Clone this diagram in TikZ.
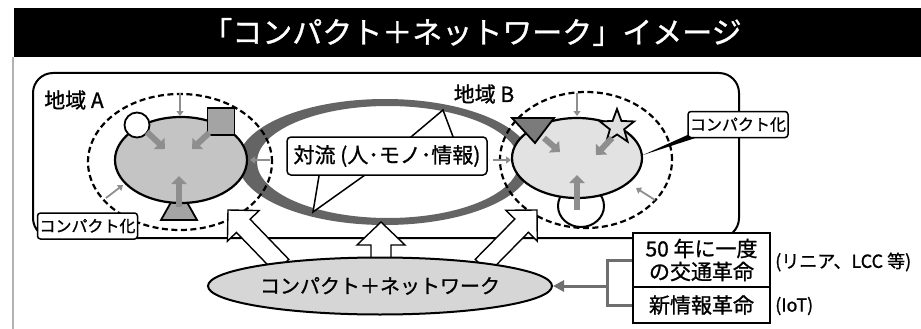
\documentclass[tikz,border=0pt]{standalone}
\usepackage{fontspec}
\setmainfont{Noto Sans CJK JP}[AutoFakeBold=1.0]
\usetikzlibrary{calc,shapes.geometric,arrows.meta}
\definecolor{ringgray}{HTML}{646464}
\definecolor{blobAfill}{HTML}{C4C4C4}
\definecolor{blobBfill}{HTML}{E2E2E2}
\definecolor{midgray}{HTML}{8E8E8E}
\definecolor{shapegray}{HTML}{A4A4A4}
\definecolor{netfill}{HTML}{D6D6D6}
\definecolor{brkgray}{HTML}{6E6E6E}
\newcommand\fsz[1]{\fontsize{#1}{#1}\selectfont\bfseries}
\newcommand\myblockarrow[5]{%
  \coordinate (bab) at ($(#2)!#4!(#1)$);
  \filldraw[fill=white, line width=1.4pt, line join=miter]
    ($(#1)!#3!90:(#2)$) -- ($(bab)!#3!-90:(#1)$) -- ($(bab)!#5!-90:(#1)$) -- (#2)
    -- ($(bab)!#5!90:(#1)$) -- ($(bab)!#3!90:(#1)$) -- ($(#1)!#3!-90:(#2)$) -- cycle;}
\begin{document}
\begin{tikzpicture}[x=1pt,y=-1pt,
  zone/.style={ellipse, draw, line width=2.2pt, dash pattern=on 6pt off 3.5pt, inner sep=0},
  blob/.style={ellipse, draw, line width=2.2pt, inner sep=0},
  inarrow/.style={draw=midgray, line width=6pt, -{Triangle[length=8pt,width=15pt]}},
  outarrow/.style={draw=midgray, line width=1.8pt, -{Triangle[length=5pt,width=7pt]}},
  tagbox/.style={draw, fill=white, line width=1.5pt, rounded corners=3pt, inner sep=0, minimum width=100pt, minimum height=26pt, font=\fsz{16}},
  lbl/.style={font=\fsz{21}, inner sep=0},
  revbox/.style={draw, fill=white, line width=1.5pt, minimum width=137pt, inner sep=0, align=center, font=\fontsize{21}{23}\selectfont\bfseries}]
\useasboundingbox (0,0) rectangle (921,329);

% banner and title
\node (banner) [fill=black, anchor=north west, minimum width=907pt, minimum height=49pt, inner sep=0] at (14,8) {};
\node (title) [text=white, font=\fsz{30}, inner sep=0] at (472,32) {「コンパクト＋ネットワーク」イメージ};
\draw[gray!60, line width=1.5pt] (13,57) -- (13,329);

% region frame
\node (region) [draw, line width=2pt, rounded corners=20pt, minimum width=706pt, minimum height=165pt, inner sep=0] at (386,155.5) {};

% convection ring
\fill[ringgray, even odd rule] (385,162) ellipse [x radius=147pt, y radius=63pt]
                               (388,162) ellipse [x radius=131pt, y radius=56pt];

% zones
\node (zoneA) [zone, minimum width=184pt, minimum height=136pt] at (180,162) {};
\node (zoneB) [zone, minimum width=172pt, minimum height=136pt] at (586,160) {};

% region A shapes
\filldraw[fill=shapegray, line width=1.8pt] (179,188) -- (161,220) -- (197,220) -- cycle;
\node (blobA) [blob, fill=blobAfill, minimum width=132pt, minimum height=86pt] at (181,160) {};
\node (cirA) [circle, draw, fill=white, line width=1.8pt, minimum size=25pt, inner sep=0] at (137,125) {};
\node (sqA) [draw, fill=shapegray, line width=1.8pt, minimum size=27pt, inner sep=0] at (221,121.5) {};
\draw[inarrow] (147,132) -- (165,149);
\draw[inarrow] (209,133) -- (192,149);
\draw[inarrow] (179,207) -- (179,176);
\draw[outarrow] (180,93) -- (180,116);
\draw[outarrow] (270,160) -- (250,160);
\draw[outarrow] (106,198) -- (123,185);

% region B shapes
\node (cirB) [ellipse, draw, fill=white, line width=2pt, minimum width=46pt, minimum height=42pt, inner sep=0] at (581,206) {};
\node (blobB) [blob, fill=blobBfill, minimum width=130pt, minimum height=80pt] at (577,158) {};
\node (starB) [star, star points=5, star point ratio=2.4, draw, fill=gray!25, line width=1.8pt, minimum size=36pt, inner sep=0] at (617,127) {};
\filldraw[fill=ringgray!85, line width=1.8pt] (512,118) -- (554,118) -- (535,143) -- cycle;
\draw[inarrow] (544,138) -- (560,152);
\draw[inarrow] (612,138) -- (596,155);
\draw[inarrow] (577,210) -- (577,175);
\draw[outarrow] (577,93) -- (577,116);
\draw[outarrow] (493,160) -- (511,160);
\draw[outarrow] (655,200) -- (636,188);

% labels
\node (labA) [lbl] at (74,100) {地域 A};
\node (labB) [lbl] at (484,94) {地域 B};
\node (tagA) [tagbox] at (87.5,226) {コンパクト化};
\fill (643,155) -- (692,133) -- (697,137.5) -- cycle;
\node (tagB) [tagbox] at (738,124.5) {コンパクト化};

% convection callout
\filldraw[fill=white, line width=1.5pt, line join=miter] (405,142) -- (443,110) -- (455,142);
\filldraw[fill=white, line width=1.5pt, line join=miter] (320,170) -- (313,212) -- (372,170);
\node (conv) [draw, fill=white, line width=1.5pt, rounded corners=4pt, minimum width=200pt, minimum height=38pt, inner sep=0, font=\fsz{21}] at (387,156) {対流 (人･モノ･情報)};

% block arrows
\coordinate (laTail) at (282,266);
\coordinate (laTip) at (228,210);
\coordinate (maTail) at (381,264);
\coordinate (maTip) at (381,222);
\coordinate (raTail) at (482,266);
\coordinate (raTip) at (537,210);
\myblockarrow{laTail}{laTip}{9.5pt}{22pt}{22pt}
\myblockarrow{maTail}{maTip}{10pt}{23pt}{24pt}
\myblockarrow{raTail}{raTip}{9.5pt}{22pt}{22pt}

% network ellipse
\node (net) [ellipse, draw, line width=2pt, fill=netfill, minimum width=344pt, minimum height=57pt, inner sep=0, font=\fsz{20}] at (380,286) {コンパクト＋ネットワーク};

% revolution boxes
\node (rev1) [revbox, minimum height=54pt] at (701.5,260) {50 年に一度\\の交通革命};
\node (rev2) [revbox, minimum height=36pt] at (701.5,305) {新情報革命};
\node (note1) [anchor=west, inner sep=0, font=\fsz{18}] at (775,262) {(リニア、LCC 等)};
\node (note2) [anchor=west, inner sep=0, font=\fsz{18}] at (775,306) {(IoT)};

\coordinate (brk) at (607,286);
\draw[brkgray, line width=3pt] (rev1.west) -| (brk) |- (rev2.west);
\draw[brkgray, line width=3pt, -{Triangle[length=11pt,width=11pt]}] (brk) -- (net.east);
\end{tikzpicture}
\end{document}
